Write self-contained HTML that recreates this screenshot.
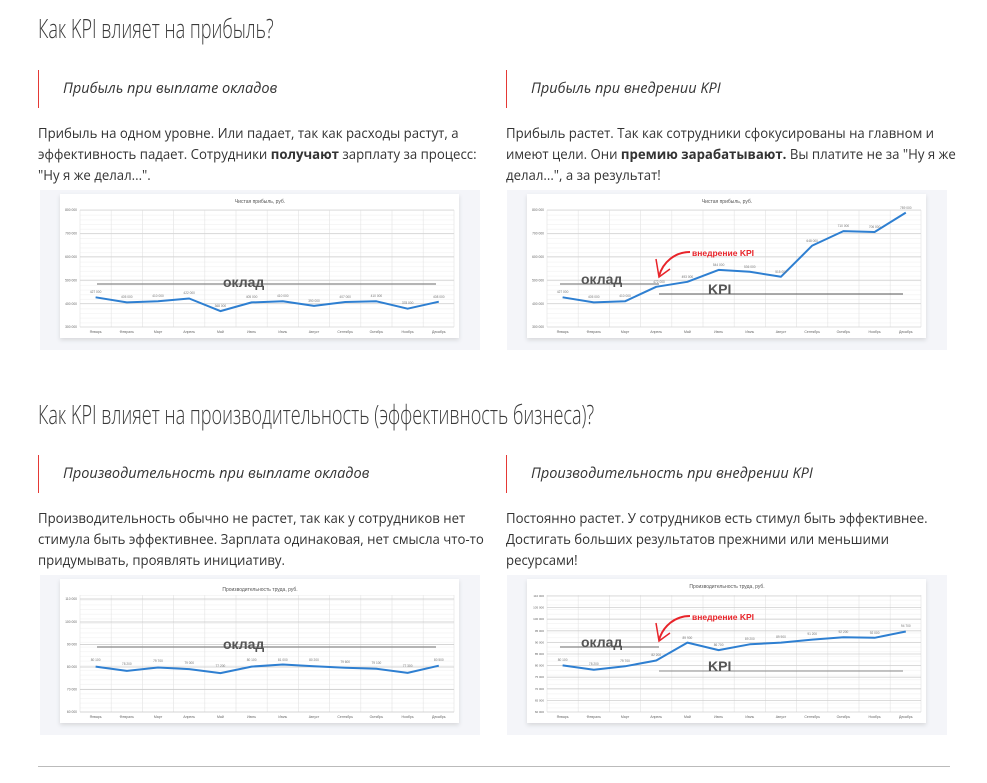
<!DOCTYPE html>
<html><head><meta charset="utf-8">
<style>
body{margin:0;background:#fff;width:987px;height:783px;position:relative;overflow:hidden;font-family:"Open Sans","Liberation Sans","DejaVu Sans",sans-serif;color:#333}
.h{position:absolute;left:38px;font-family:"Open Sans","Liberation Sans",sans-serif;font-size:27px;font-weight:300;color:#3a3a3a;white-space:nowrap;transform:scaleX(0.67);transform-origin:0 0}
.sub{position:absolute;border-left:1.5px solid #e53935;height:38px;padding-left:24px;line-height:38px;font-style:italic;font-size:14.5px;color:#333;white-space:nowrap}
.p{position:absolute;font-size:13.2px;line-height:21px;color:#333;white-space:nowrap}
.p b{font-weight:bold}
svg{position:absolute}
svg text{font-family:"Liberation Sans",sans-serif}
</style></head><body>
<svg width="0" height="0" style="position:absolute">
<defs>
<pattern id="minor" width="440" height="4.68" patternUnits="userSpaceOnUse" y="20"><line x1="0" y1="0.5" x2="440" y2="0.5" stroke="#f1f1f1" stroke-width="0.6"/></pattern>
<g id="grid">
<rect x="0" y="0" width="440" height="160" fill="#f4f5f9"/>
<rect x="20" y="4" width="399" height="144" fill="#fff" filter="url(#sh)"/>
<rect x="40" y="20" width="374" height="117" fill="url(#minor)"/>
<g stroke="#e6e6e6" stroke-width="0.7">
<line x1="40" y1="20" x2="40" y2="137"/><line x1="71.2" y1="20" x2="71.2" y2="137"/><line x1="102.4" y1="20" x2="102.4" y2="137"/><line x1="133.6" y1="20" x2="133.6" y2="137"/><line x1="164.8" y1="20" x2="164.8" y2="137"/><line x1="196" y1="20" x2="196" y2="137"/><line x1="227.2" y1="20" x2="227.2" y2="137"/><line x1="258.4" y1="20" x2="258.4" y2="137"/><line x1="289.6" y1="20" x2="289.6" y2="137"/><line x1="320.8" y1="20" x2="320.8" y2="137"/><line x1="352" y1="20" x2="352" y2="137"/><line x1="383.2" y1="20" x2="383.2" y2="137"/><line x1="414" y1="20" x2="414" y2="137"/>
</g>
<g font-size="3.5" fill="#666" text-anchor="middle">
<text x="55.6" y="143">Январь</text><text x="86.8" y="143">Февраль</text><text x="118" y="143">Март</text><text x="149.2" y="143">Апрель</text><text x="180.4" y="143">Май</text><text x="211.6" y="143">Июнь</text><text x="242.8" y="143">Июль</text><text x="274" y="143">Август</text><text x="305.2" y="143">Сентябрь</text><text x="336.4" y="143">Октябрь</text><text x="367.6" y="143">Ноябрь</text><text x="398.8" y="143">Декабрь</text>
</g>
</g>
<filter id="sh" x="-5%" y="-5%" width="110%" height="115%"><feDropShadow dx="0" dy="2" stdDeviation="2" flood-color="#000" flood-opacity="0.12"/></filter>
<g id="hmaj1" stroke="#d4d4d4" stroke-width="0.8">
<line x1="40" y1="20" x2="414" y2="20"/><line x1="40" y1="43.4" x2="414" y2="43.4"/><line x1="40" y1="66.8" x2="414" y2="66.8"/><line x1="40" y1="90.2" x2="414" y2="90.2"/><line x1="40" y1="113.6" x2="414" y2="113.6"/><line x1="40" y1="137" x2="414" y2="137"/>
</g>
</defs></svg>

<div class="h" style="top:9px">Как KPI влияет на прибыль?</div>

<div class="sub" style="left:38px;top:70px">Прибыль при выплате окладов</div>
<div class="p" style="left:38px;top:123px">Прибыль на одном уровне. Или падает, так как расходы растут, а<br>эффективность падает. Сотрудники <b>получают</b> зарплату за процесс:<br>"Ну я же делал...".</div>

<div class="sub" style="left:506px;top:70px">Прибыль при внедрении KPI</div>
<div class="p" style="left:506px;top:123px">Прибыль растет. Так как сотрудники сфокусированы на главном и<br>имеют цели. Они <b>премию зарабатывают.</b> Вы платите не за "Ну я же<br>делал...", а за результат!</div>

<!-- chart 1 -->
<svg style="left:40px;top:190px" width="440" height="160" viewBox="0 0 440 160">
<use href="#grid"/><use href="#hmaj1"/>
<text x="220" y="13" font-size="5" fill="#555" text-anchor="middle">Чистая прибыль, руб.</text>
<g font-size="3.3" fill="#666" text-anchor="end"><text x="37" y="21">800 000</text><text x="37" y="44.5">700 000</text><text x="37" y="68">600 000</text><text x="37" y="91.5">500 000</text><text x="37" y="115">400 000</text><text x="37" y="138">300 000</text></g>
<line x1="57" y1="94" x2="396" y2="94" stroke="#888" stroke-width="1.3"/>
<text x="183" y="97" font-size="14" font-weight="bold" fill="#555">оклад</text>
<polyline fill="none" stroke="#2e7fd1" stroke-width="2" stroke-linejoin="round" points="55.6,107.3 86.8,112.4 118,111.3 149.2,108.5 180.4,121.1 211.6,112.4 242.8,111.3 274,115.9 305.2,112 336.4,111.3 367.6,118.7 398.8,111.7"/>
<g font-size="3.2" fill="#777" text-anchor="middle"><text x="55.6" y="103">427 000</text><text x="86.8" y="108">405 000</text><text x="118" y="107">410 000</text><text x="149.2" y="104">422 000</text><text x="180.4" y="117">368 000</text><text x="211.6" y="108">405 000</text><text x="242.8" y="107">410 000</text><text x="274" y="112">390 000</text><text x="305.2" y="108">407 000</text><text x="336.4" y="107">410 000</text><text x="367.6" y="114">378 000</text><text x="398.8" y="108">408 000</text></g>
</svg>

<!-- chart 2 -->
<svg style="left:507px;top:190px" width="440" height="160" viewBox="0 0 440 160">
<use href="#grid"/><use href="#hmaj1"/>
<text x="220" y="13" font-size="5" fill="#555" text-anchor="middle">Чистая прибыль, руб.</text>
<g font-size="3.3" fill="#666" text-anchor="end"><text x="37" y="21">800 000</text><text x="37" y="44.5">700 000</text><text x="37" y="68">600 000</text><text x="37" y="91.5">500 000</text><text x="37" y="115">400 000</text><text x="37" y="138">300 000</text></g>
<line x1="53" y1="94" x2="152" y2="94" stroke="#888" stroke-width="1.3"/>
<text x="74" y="94" font-size="14" font-weight="bold" fill="#555">оклад</text>
<line x1="152" y1="104" x2="396" y2="104" stroke="#555" stroke-width="1"/>
<text x="201" y="104" font-size="14" font-weight="bold" fill="#555">KPI</text>
<polyline fill="none" stroke="#2e7fd1" stroke-width="2" stroke-linejoin="round" points="55.6,107.3 86.8,112.4 118,111.3 149.2,96.8 180.4,91.8 211.6,79.9 242.8,81.8 274,86.7 305.2,55.6 336.4,41.1 367.6,42 398.8,22.6"/>
<g font-size="3.2" fill="#777" text-anchor="middle"><text x="55.6" y="103">427 000</text><text x="86.8" y="108">405 000</text><text x="118" y="107">410 000</text><text x="152" y="93">472 000</text><text x="180.4" y="88">493 000</text><text x="211.6" y="76">544 000</text><text x="242.8" y="78">536 000</text><text x="274" y="83">515 000</text><text x="305.2" y="52">648 000</text><text x="336.4" y="37">710 000</text><text x="367.6" y="38">706 000</text><text x="398.8" y="19">789 000</text></g>
<text x="185" y="66" font-size="8.5" font-weight="bold" fill="#e8242a">внедрение KPI</text>
<path d="M183,62 C168,62 156,72 152,86" fill="none" stroke="#e8242a" stroke-width="2"/>
<path d="M149,69 L152,87 L163,79" fill="none" stroke="#e8242a" stroke-width="1.5"/>
</svg>

<div class="h" style="top:395px">Как KPI влияет на производительность (эффективность бизнеса)?</div>

<div class="sub" style="left:38px;top:455px">Производительность при выплате окладов</div>
<div class="p" style="left:38px;top:508px">Производительность обычно не растет, так как у сотрудников нет<br>стимула быть эффективнее. Зарплата одинаковая, нет смысла что-то<br>придумывать, проявлять инициативу.</div>

<div class="sub" style="left:506px;top:455px">Производительность при внедрении KPI</div>
<div class="p" style="left:506px;top:508px">Постоянно растет. У сотрудников есть стимул быть эффективнее.<br>Достигать больших результатов прежними или меньшими<br>ресурсами!</div>

<!-- chart 3 -->
<svg style="left:40px;top:575px" width="440" height="160" viewBox="0 0 440 160">
<use href="#grid"/>
<g stroke="#c8c8c8" stroke-width="0.8"><line x1="40" y1="24" x2="414" y2="24"/><line x1="40" y1="47" x2="414" y2="47"/><line x1="40" y1="69.5" x2="414" y2="69.5"/><line x1="40" y1="92" x2="414" y2="92"/><line x1="40" y1="114.5" x2="414" y2="114.5"/><line x1="40" y1="137" x2="414" y2="137"/></g>
<text x="220" y="16" font-size="5" fill="#555" text-anchor="middle">Производительность труда, руб.</text>
<g font-size="3.3" fill="#666" text-anchor="end"><text x="37" y="25">110 000</text><text x="37" y="48">100 000</text><text x="37" y="70.5">90 000</text><text x="37" y="93">80 000</text><text x="37" y="115.5">70 000</text><text x="37" y="138">60 000</text></g>
<line x1="57" y1="72" x2="396" y2="72" stroke="#888" stroke-width="1.3"/>
<text x="183" y="74" font-size="14" font-weight="bold" fill="#555">оклад</text>
<polyline fill="none" stroke="#2e7fd1" stroke-width="2" stroke-linejoin="round" points="55.6,91.6 86.8,95.9 118,92.5 149.2,94.1 180.4,98.1 211.6,91.6 242.8,89.5 274,91.3 305.2,92.7 336.4,93.8 367.6,97.9 398.8,90.7"/>
<g font-size="3.2" fill="#777" text-anchor="middle"><text x="55.6" y="86">80 100</text><text x="86.8" y="90">78 200</text><text x="118" y="87">79 700</text><text x="149.2" y="89">79 000</text><text x="180.4" y="92">77 200</text><text x="211.6" y="86">80 100</text><text x="242.8" y="86">81 000</text><text x="274" y="86">80 200</text><text x="305.2" y="88">79 600</text><text x="336.4" y="89">79 100</text><text x="367.6" y="92">77 300</text><text x="398.8" y="86">80 500</text></g>
</svg>

<!-- chart 4 -->
<svg style="left:507px;top:575px" width="440" height="160" viewBox="0 0 440 160">
<use href="#grid"/>
<g stroke="#d0d0d0" stroke-width="0.8"><line x1="40" y1="21" x2="414" y2="21"/><line x1="40" y1="32.6" x2="414" y2="32.6"/><line x1="40" y1="44.2" x2="414" y2="44.2"/><line x1="40" y1="55.8" x2="414" y2="55.8"/><line x1="40" y1="67.4" x2="414" y2="67.4"/><line x1="40" y1="79" x2="414" y2="79"/><line x1="40" y1="90.6" x2="414" y2="90.6"/><line x1="40" y1="102.2" x2="414" y2="102.2"/><line x1="40" y1="113.8" x2="414" y2="113.8"/><line x1="40" y1="125.4" x2="414" y2="125.4"/><line x1="40" y1="137" x2="414" y2="137"/></g>
<text x="220" y="13" font-size="5" fill="#555" text-anchor="middle">Производительность труда, руб.</text>
<g font-size="3" fill="#666" text-anchor="end"><text x="37" y="22">110 000</text><text x="37" y="33.6">105 000</text><text x="37" y="45.2">100 000</text><text x="37" y="56.8">95 000</text><text x="37" y="68.4">90 000</text><text x="37" y="80">85 000</text><text x="37" y="91.6">80 000</text><text x="37" y="103.2">75 000</text><text x="37" y="114.8">70 000</text><text x="37" y="126.4">65 000</text><text x="37" y="138">60 000</text></g>
<line x1="53" y1="72" x2="152" y2="72" stroke="#888" stroke-width="1.3"/>
<text x="74" y="72" font-size="14" font-weight="bold" fill="#555">оклад</text>
<line x1="152" y1="96" x2="396" y2="96" stroke="#888" stroke-width="1"/>
<text x="201" y="96" font-size="14" font-weight="bold" fill="#555">KPI</text>
<polyline fill="none" stroke="#2e7fd1" stroke-width="2" stroke-linejoin="round" points="55.6,90.4 86.8,94.8 118,91.3 149.2,85.5 180.4,67.6 211.6,75.1 242.8,69.3 274,67.6 305.2,64.6 336.4,62.3 367.6,62.8 398.8,56.5"/>
<g font-size="3.2" fill="#777" text-anchor="middle"><text x="55.6" y="86">80 100</text><text x="86.8" y="90">78 200</text><text x="118" y="87">79 700</text><text x="149.2" y="81">82 200</text><text x="180.4" y="64">89 900</text><text x="211.6" y="71">86 700</text><text x="242.8" y="65">89 200</text><text x="274" y="63">89 900</text><text x="305.2" y="60">91 200</text><text x="336.4" y="58">92 200</text><text x="367.6" y="59">92 000</text><text x="398.8" y="52">94 700</text></g>
<text x="185" y="45" font-size="8.5" font-weight="bold" fill="#e8242a">внедрение KPI</text>
<path d="M183,41 C168,41 156,51 152,65" fill="none" stroke="#e8242a" stroke-width="2"/>
<path d="M149,48 L152,66 L163,58" fill="none" stroke="#e8242a" stroke-width="1.5"/>
</svg>

<div style="position:absolute;left:38px;top:766px;width:912px;height:1px;background:#bbb"></div>
</body></html>
